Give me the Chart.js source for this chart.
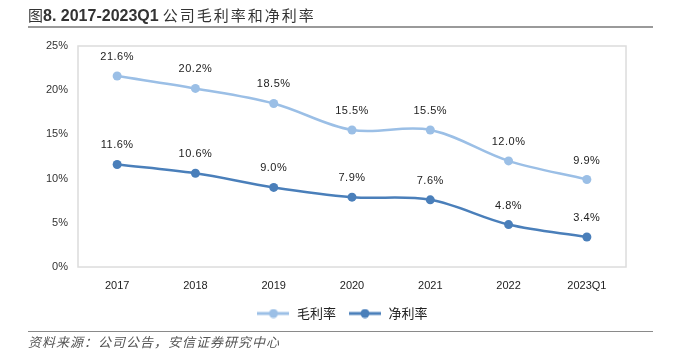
<!DOCTYPE html>
<html>
<head>
<meta charset="utf-8">
<script src="https://cdn.jsdelivr.net/npm/chart.js@4.4.0/dist/chart.umd.min.js"></script>
<style>
  html, body { margin: 0; padding: 0; background: #fff; }
  #wrap { position: relative; width: 676px; height: 350px; }
  #chart { position: absolute; left: 0; top: 0; }
  .title {
    position: absolute; left: 28px; top: 4px; white-space: nowrap;
    font: 15px "Noto Sans CJK SC", sans-serif; color: #333;
  }
  .title b { font: bold 16px "Liberation Sans", sans-serif; }
  .title .cn { letter-spacing: 2px; margin-left: 4px; }
  .title-line { position: absolute; left: 28px; top: 26px; width: 625px; height: 2px; background: #9a9a9a; }
  .src-line { position: absolute; left: 28px; top: 331px; width: 625px; height: 1px; background: #8a8a8a; }
  .source {
    position: absolute; left: 28px; top: 332px; white-space: nowrap;
    font: italic 13px "Noto Sans CJK SC", sans-serif; color: #555; letter-spacing: 1px;
  }
</style>
</head>
<body>
<div id="wrap">
  <canvas id="chart" width="676" height="350"></canvas>
  <div class="title">图<b>8. 2017-2023Q1</b><span class="cn">公司毛利率和净利率</span></div>
  <div class="title-line"></div>
  <div class="src-line"></div>
  <div class="source">资料来源：公司公告，安信证券研究中心</div>
</div>
<script>
const categories = ['2017', '2018', '2019', '2020', '2021', '2022', '2023Q1'];
const grossMargin = [21.6, 20.2, 18.5, 15.5, 15.5, 12.0, 9.9];
const netMargin = [11.6, 10.6, 9.0, 7.9, 7.6, 4.8, 3.4];
const yTicks = [0, 5, 10, 15, 20, 25];

const lightBlue = '#9BBFE6';
const darkBlue = '#4A7FBA';

// legend marker: short line with a dot in the middle
function legendMarker(color) {
  const c = document.createElement('canvas');
  c.width = 32; c.height = 10;
  const g = c.getContext('2d');
  g.strokeStyle = color; g.lineWidth = 3;
  g.beginPath(); g.moveTo(0, 5); g.lineTo(32, 5); g.stroke();
  g.fillStyle = color;
  g.beginPath(); g.arc(16, 5, 4.5, 0, Math.PI * 2); g.fill();
  return c;
}

const boxPlugin = {
  id: 'box',
  afterLayout(chart) {
    // nudge the legend so it sits centred on the page, not on the padded area
    chart.legend.left += 14;
    chart.legend.right += 14;
  },
  beforeDatasetsDraw(chart) {
    const a = chart.chartArea, ctx = chart.ctx;
    ctx.save();
    ctx.strokeStyle = '#dcdcdc';
    ctx.lineWidth = 1.5;
    ctx.strokeRect(a.left, a.top, a.right - a.left, a.bottom - a.top);
    ctx.restore();
  }
};

const valueLabels = {
  id: 'valueLabels',
  afterDatasetsDraw(chart) {
    const ctx = chart.ctx;
    ctx.save();
    ctx.font = '11px "Liberation Sans", sans-serif';
    ctx.letterSpacing = '0.5px';
    ctx.fillStyle = '#222';
    ctx.textAlign = 'center';
    ctx.textBaseline = 'middle';
    chart.data.datasets.forEach((ds, i) => {
      chart.getDatasetMeta(i).data.forEach((pt, j) => {
        ctx.fillText(ds.data[j].toFixed(1) + '%', pt.x, pt.y - 19);
      });
    });
    ctx.restore();
  }
};

const ctx = document.getElementById('chart').getContext('2d');
new Chart(ctx, {
  type: 'line',
  data: {
    labels: categories,
    datasets: [
      {
        label: '毛利率',
        data: grossMargin,
        borderColor: lightBlue,
        backgroundColor: lightBlue,
        borderWidth: 2.5,
        pointRadius: 4.5,
        pointBorderWidth: 0,
        tension: 0.35,
        marker: legendMarker(lightBlue)
      },
      {
        label: '净利率',
        data: netMargin,
        borderColor: darkBlue,
        backgroundColor: darkBlue,
        borderWidth: 2.5,
        pointRadius: 4.5,
        pointBorderWidth: 0,
        tension: 0.35,
        marker: legendMarker(darkBlue)
      }
    ]
  },
  options: {
    responsive: false,
    animation: false,
    layout: { padding: { left: 30, right: 50, top: 46, bottom: 20 } },
    plugins: {
      tooltip: { enabled: false },
      legend: {
        position: 'bottom',
        labels: {
          usePointStyle: true,
          pointStyleWidth: 34,
          padding: 12,
          color: '#222',
          font: { family: '"Noto Sans CJK SC", sans-serif', size: 13 },
          generateLabels(chart) {
            return chart.data.datasets.map((ds, i) => ({
              text: ds.label,
              pointStyle: ds.marker,
              fillStyle: ds.borderColor,
              strokeStyle: ds.borderColor,
              lineWidth: 0,
              fontColor: '#222',
              hidden: false,
              datasetIndex: i
            }));
          }
        }
      }
    },
    scales: {
      x: {
        offset: true,
        grid: { display: false, drawTicks: false },
        border: { display: false },
        ticks: { color: '#222', padding: 12, font: { family: '"Liberation Sans", sans-serif', size: 11 } },
        afterFit(s) { s.height = 28; }
      },
      y: {
        min: 0,
        max: 25,
        afterBuildTicks(s) { s.ticks = yTicks.map(v => ({ value: v })); },
        grid: { display: false, drawTicks: false },
        border: { display: false },
        ticks: {
          color: '#333',
          padding: 10,
          font: { family: '"Liberation Sans", sans-serif', size: 11 },
          callback: v => v + '%'
        },
        afterFit(s) { s.width = 48; }
      }
    }
  },
  plugins: [boxPlugin, valueLabels]
});
</script>
</body>
</html>
